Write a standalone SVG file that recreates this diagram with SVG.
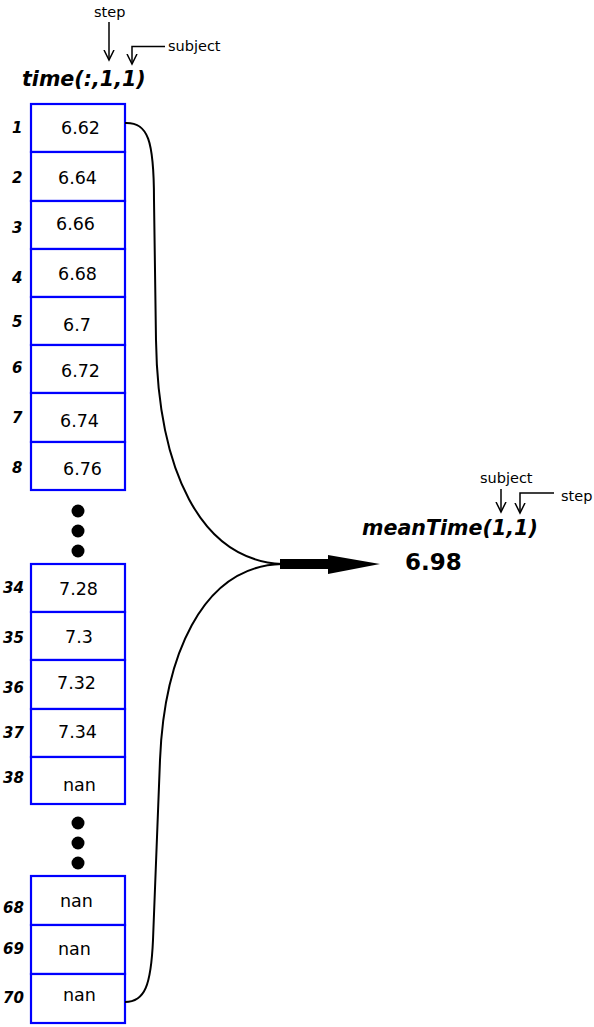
<svg xmlns="http://www.w3.org/2000/svg" width="594" height="1027" viewBox="0 0 594 1027">
<defs>
<style>
.cell{fill:#fff;stroke:#0000ff;stroke-width:2.2}
.val{font-family:"DejaVu Sans",Verdana,sans-serif;font-size:17.5px;fill:#000}
.idx{font-family:"DejaVu Sans",Verdana,sans-serif;font-size:15px;font-weight:bold;font-style:italic;fill:#000}
.title{font-family:"DejaVu Sans",Verdana,sans-serif;font-size:20.6px;font-weight:bold;font-style:italic;fill:#000}
.note{font-family:"DejaVu Sans",Verdana,sans-serif;font-size:14.5px;fill:#000}
.res{font-family:"DejaVu Sans",Verdana,sans-serif;font-size:23px;font-weight:bold;fill:#000}
.ln{fill:none;stroke:#000;stroke-width:1.5}
.crv{fill:none;stroke:#000;stroke-width:2}
.dot{fill:#000}
</style>
<marker id="v" markerWidth="12" markerHeight="12" refX="10" refY="6" orient="auto" markerUnits="userSpaceOnUse" viewBox="0 0 12 12">
<path d="M0,1 L10,6 L0,11" fill="none" stroke="#000" stroke-width="1.5"/>
</marker>
</defs>
<rect width="594" height="1027" fill="#fff"/>

<g id="labels-top">
<text class="note" x="94" y="17">step</text>
<text class="note" x="168" y="51">subject</text>
<text class="title" x="22" y="86">time(:,1,1)</text>
</g>
<g id="annot-arrows-top">
<path class="ln" d="M109,22 L109,60" marker-end="url(#v)"/>
<path class="ln" d="M165,46.5 L132,46.5 L132,64" marker-end="url(#v)"/>
</g>

<g id="group1">
<rect class="cell" x="31" y="104" width="94" height="48"/>
<rect class="cell" x="31" y="152" width="94" height="49"/>
<rect class="cell" x="31" y="201" width="94" height="48"/>
<rect class="cell" x="31" y="249" width="94" height="48"/>
<rect class="cell" x="31" y="297" width="94" height="48"/>
<rect class="cell" x="31" y="345" width="94" height="48"/>
<rect class="cell" x="31" y="393" width="94" height="49"/>
<rect class="cell" x="31" y="442" width="94" height="48"/>
<text class="val" x="61" y="134">6.62</text>
<text class="val" x="58" y="184">6.64</text>
<text class="val" x="56" y="230">6.66</text>
<text class="val" x="58" y="280">6.68</text>
<text class="val" x="63" y="331">6.7</text>
<text class="val" x="61" y="377">6.72</text>
<text class="val" x="60" y="427">6.74</text>
<text class="val" x="63" y="475">6.76</text>
<text class="idx" x="12" y="133">1</text>
<text class="idx" x="12" y="183">2</text>
<text class="idx" x="12" y="233">3</text>
<text class="idx" x="12" y="283">4</text>
<text class="idx" x="12" y="327">5</text>
<text class="idx" x="12" y="373">6</text>
<text class="idx" x="12" y="423">7</text>
<text class="idx" x="12" y="473">8</text>
</g>

<g id="ellipsis1">
<circle class="dot" cx="78" cy="511" r="6.5"/>
<circle class="dot" cx="78" cy="531" r="6.5"/>
<circle class="dot" cx="78" cy="551" r="6.5"/>
</g>

<g id="group2">
<rect class="cell" x="31" y="564" width="94" height="48"/>
<rect class="cell" x="31" y="612" width="94" height="48"/>
<rect class="cell" x="31" y="660" width="94" height="49"/>
<rect class="cell" x="31" y="709" width="94" height="48"/>
<rect class="cell" x="31" y="757" width="94" height="47"/>
<text class="val" x="59" y="595">7.28</text>
<text class="val" x="65" y="643">7.3</text>
<text class="val" x="57" y="689">7.32</text>
<text class="val" x="58" y="738">7.34</text>
<text class="val" x="63" y="791">nan</text>
<text class="idx" x="3" y="593">34</text>
<text class="idx" x="3" y="643">35</text>
<text class="idx" x="3" y="693">36</text>
<text class="idx" x="3" y="738">37</text>
<text class="idx" x="3" y="783">38</text>
</g>

<g id="ellipsis2">
<circle class="dot" cx="78" cy="823" r="6.5"/>
<circle class="dot" cx="78" cy="843" r="6.5"/>
<circle class="dot" cx="78" cy="863" r="6.5"/>
</g>

<g id="group3">
<rect class="cell" x="31" y="876" width="94" height="49"/>
<rect class="cell" x="31" y="925" width="94" height="49"/>
<rect class="cell" x="31" y="974" width="94" height="49"/>
<text class="val" x="60" y="907">nan</text>
<text class="val" x="58" y="955">nan</text>
<text class="val" x="63" y="1001">nan</text>
<text class="idx" x="3" y="913">68</text>
<text class="idx" x="3" y="954">69</text>
<text class="idx" x="3" y="1003">70</text>
</g>

<g id="connectors">
<path class="crv" d="M125,123 C148,122 154,140 154,200 L156,340 C158,470 200,560 282,564"/>
<path class="crv" d="M125,1002 C145,1002 151,985 153,940 L160,760 C164,660 200,566 282,564"/>
<rect x="280" y="559" width="52" height="10" fill="#000"/>
<path d="M328,555 L380,564 L328,574 Z" fill="#000"/>
</g>

<g id="result">
<text class="note" x="480" y="483">subject</text>
<text class="note" x="561" y="501">step</text>
<path class="ln" d="M501,489 L501,512" marker-end="url(#v)"/>
<path class="ln" d="M554,493 L520,493 L520,513" marker-end="url(#v)"/>
<text class="title" x="362" y="535">meanTime(1,1)</text>
<text class="res" x="405" y="570">6.98</text>
</g>
</svg>
